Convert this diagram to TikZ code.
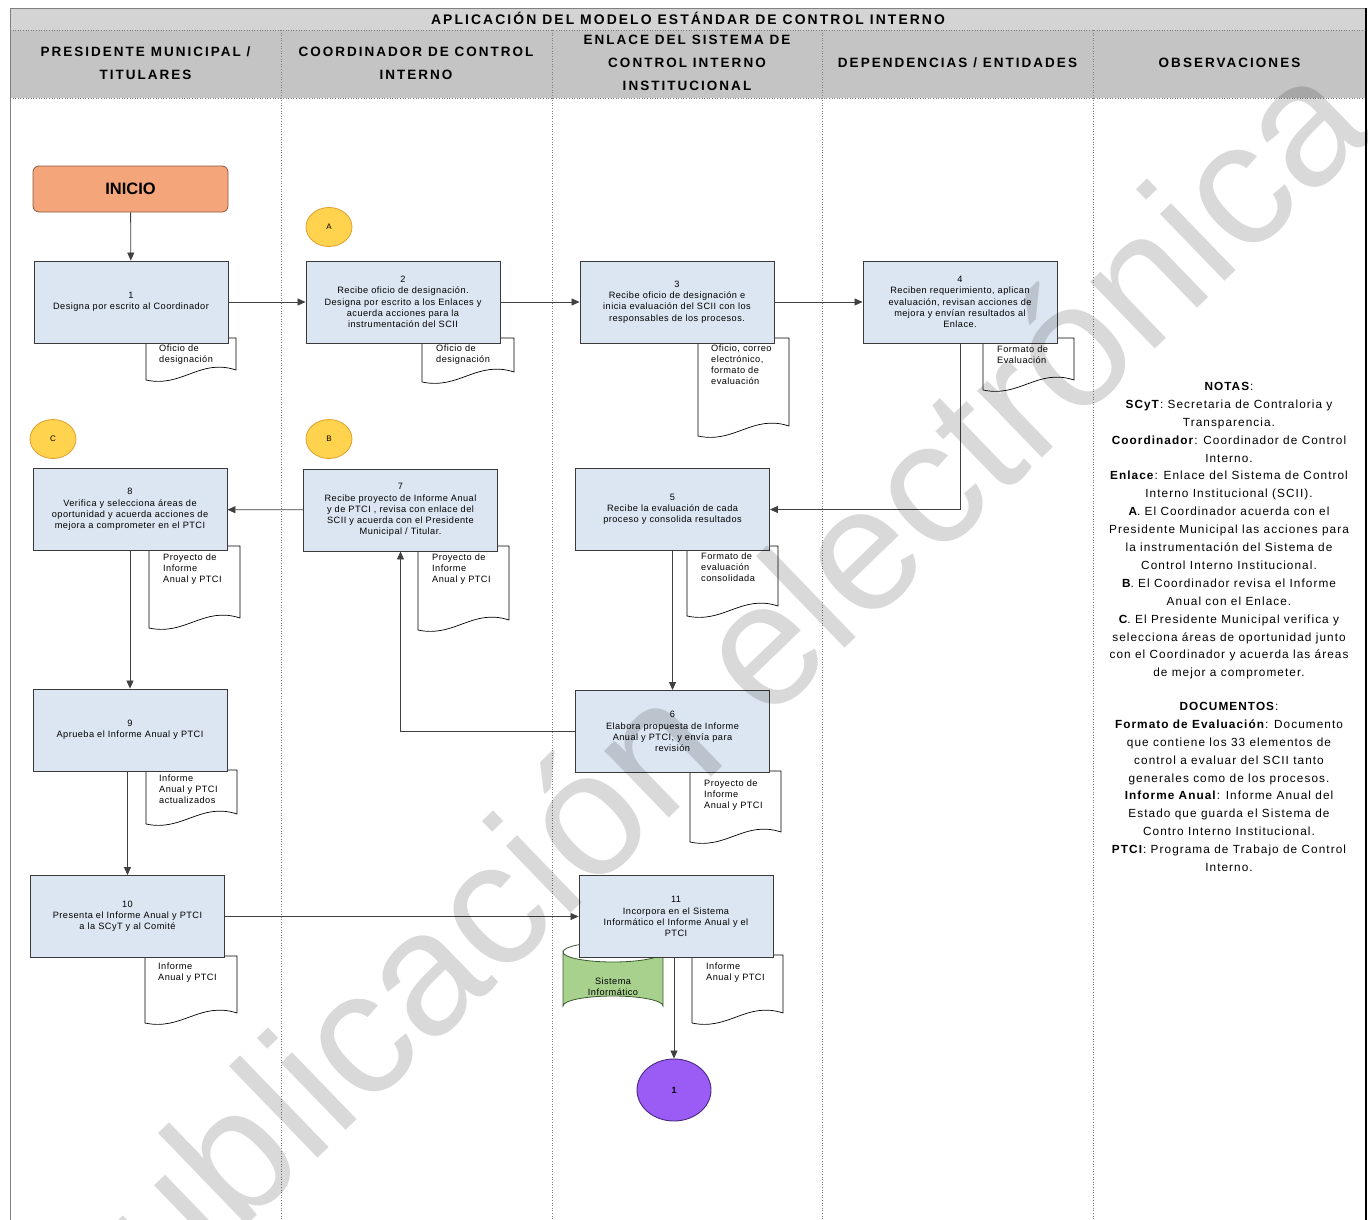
\documentclass[tikz,border=0pt]{standalone}
\usepackage{fontspec}
\setmainfont{Liberation Sans}
\newfontfamily\hdrfont[LetterSpace=15]{Liberation Sans}
\newfontfamily\notefont[LetterSpace=9]{Liberation Sans}
\newfontfamily\boxfont[LetterSpace=5]{Liberation Sans}
\usetikzlibrary{arrows.meta,shapes.geometric}

\definecolor{hdrgray}{HTML}{C4C4C4}
\definecolor{titlegray}{HTML}{D4D4D4}
\definecolor{boxblue}{HTML}{DCE6F2}
\definecolor{boxedge}{HTML}{3A3A3A}
\definecolor{startorange}{HTML}{F4A57A}
\definecolor{startedge}{HTML}{8C5A40}
\definecolor{connyellow}{HTML}{FFD34D}
\definecolor{connedge}{HTML}{E0A030}
\definecolor{endpurple}{HTML}{9B5CF6}
\definecolor{endedge}{HTML}{4A2A80}
\definecolor{dbgreen}{HTML}{A9D18E}
\definecolor{dbedge}{HTML}{3C5A30}
\definecolor{laneline}{HTML}{808080}

% document symbol: frame with a wavy lower edge
\newcommand{\docsym}[4]{%
  \pgfmathsetmacro{\dw}{#3-#1}%
  \draw[docline] (#1,#2) -- (#3,#2) -- (#3,#4-10)
    .. controls ({#3-0.4*\dw},{#4-22}) and ({#1+0.4*\dw},{#4+8}) .. (#1,#4) -- cycle;}

\begin{document}
\begin{tikzpicture}[x=1pt,y=-1pt,
  stepbox/.style={draw=boxedge, line width=0.9pt, fill=boxblue,
    minimum width=194pt, minimum height=82pt, align=center,
    text width=190pt, inner sep=2pt, font=\boxfont\fontsize{9.2}{11.2}\selectfont},
  docline/.style={draw=black, line width=0.7pt, fill=white},
  doctext/.style={anchor=north west, align=left, text width=78pt, inner sep=0pt,
    font=\boxfont\fontsize{9.2}{10.8}\selectfont},
  conn/.style={ellipse, draw=connedge, line width=0.8pt, fill=connyellow,
    minimum width=46pt, minimum height=39pt, inner sep=0pt, font=\fontsize{8}{9}\selectfont},
  flow/.style={draw=black!75, line width=0.8pt, -{Triangle[length=8pt,width=7pt]}},
  hdr/.style={align=center, font=\hdrfont\bfseries\fontsize{13.5}{23}\selectfont},
  lane/.style={draw=laneline, line width=0.6pt, dotted}
]
\useasboundingbox (0,0) rectangle (1368,1220);
\fill[white] (0,0) rectangle (1368,1220);

% ---- title and lane headers ----
\fill[titlegray] (10,8) rectangle (1366,30);
\fill[hdrgray] (10,30) rectangle (1366,98);
\draw[lane] (10,30) -- (1366,30);
\draw[lane] (10,98) -- (1366,98);
\node[font=\hdrfont\bfseries\fontsize{13.9}{14}\selectfont] (title) at (688,18)
  {APLICACIÓN DEL MODELO ESTÁNDAR DE CONTROL INTERNO};
\node[hdr] (h1) at (145.5,63) {PRESIDENTE MUNICIPAL /\\TITULARES};
\node[hdr] (h2) at (416,63) {COORDINADOR DE CONTROL\\INTERNO};
\node[hdr] (h3) at (687,63) {ENLACE DEL SISTEMA DE\\CONTROL INTERNO\\INSTITUCIONAL};
\node[hdr] (h4) at (957.5,63) {DEPENDENCIAS / ENTIDADES};
\node[hdr] (h5) at (1229.5,63) {OBSERVACIONES};
\foreach \lx in {281,552,822,1093} \draw[lane] (\lx,30) -- (\lx,1220);
\draw[draw=laneline, line width=0.6pt] (10,8) -- (10,1220);
\draw[draw=laneline, line width=0.6pt] (10,8) -- (1366,8);
\draw[black, line width=1.6pt] (1366,8) -- (1366,1220);

% ---- documents (drawn beneath the process boxes) ----
\docsym{146}{338}{236}{380}
\node[doctext] (d1) at (159,345) {Oficio de\\designación};
\docsym{422}{338}{514}{382}
\node[doctext] (d2) at (436,345) {Oficio de\\designación};
\docsym{698}{338}{789}{436}
\node[doctext] (d3) at (711,345) {Oficio, correo\\electrónico,\\formato de\\evaluación};
\docsym{983}{338}{1074}{390}
\node[doctext] (d4) at (997,346) {Formato de\\Evaluación};
\docsym{687}{546}{778}{616}
\node[doctext] (d5) at (701,553) {Formato de\\evaluación\\consolidada};
\docsym{690}{771}{781}{842}
\node[doctext] (d6) at (704,780) {Proyecto de\\Informe\\Anual y PTCI};
\docsym{418}{546}{509}{630}
\node[doctext] (d7) at (432,554) {Proyecto de\\Informe\\Anual y PTCI};
\docsym{149}{546}{240}{628}
\node[doctext] (d8) at (163,554) {Proyecto de\\Informe\\Anual y PTCI};
\docsym{146}{770}{237}{824}
\node[doctext] (d9) at (159,775) {Informe\\Anual y PTCI\\actualizados};
\docsym{145}{956}{237}{1023}
\node[doctext] (d10) at (158,963) {Informe\\Anual y PTCI};
\docsym{692}{955}{783}{1023}
\node[doctext] (d11) at (706,963) {Informe\\Anual y PTCI};

% ---- database cylinder ----
\path[fill=dbgreen, draw=dbedge, line width=0.8pt]
  (563,952) -- (563,1006) arc[start angle=180, end angle=360, x radius=50, y radius=10]
  -- (663,952) arc[start angle=0, end angle=180, x radius=50, y radius=10] -- cycle;
\draw[dbedge, line width=0.8pt] (563,952) arc[start angle=180, end angle=360, x radius=50, y radius=10];
\node[align=center, font=\boxfont\fontsize{9.2}{10.8}\selectfont] (db) at (613,987) {Sistema\\Informático};

% ---- start, connectors, process boxes ----
\node[draw=startedge, line width=0.8pt, fill=startorange, rounded corners=6pt,
  minimum width=195pt, minimum height=46pt, font=\bfseries\fontsize{16.5}{18}\selectfont]
  (inicio) at (130.5,189) {INICIO};
\node[conn] (cA) at (329,227) {A};
\node[conn] (cB) at (329,439) {B};
\node[conn] (cC) at (53,439) {C};

\node[stepbox] (b1) at (131,302) {1\\Designa por escrito al Coordinador};
\node[stepbox] (b2) at (403,302) {2\\Recibe oficio de designación.\\Designa por escrito a los Enlaces y\\acuerda acciones para la\\instrumentación del SCII};
\node[stepbox] (b3) at (677,302) {3\\Recibe oficio de designación e\\inicia evaluación del SCII con los\\responsables de los procesos.};
\node[stepbox] (b4) at (960,302) {4\\Reciben requerimiento, aplican\\evaluación, revisan acciones de\\mejora y envían resultados al\\Enlace.};
\node[stepbox] (b5) at (672.5,509.5) {5\\Recibe la evaluación de cada\\proceso y consolida resultados};
\node[stepbox] (b6) at (672.5,731.5) {6\\Elabora propuesta de Informe\\Anual y PTCI, y envía para\\revisión};
\node[stepbox] (b7) at (400.5,510) {7\\Recibe proyecto de Informe Anual\\y de PTCI , revisa con enlace del\\SCII y acuerda con el Presidente\\Municipal / Titular.};
\node[stepbox] (b8) at (130,509.5) {8\\Verifica y selecciona áreas de\\oportunidad y acuerda acciones de\\mejora a comprometer en el PTCI};
\node[stepbox] (b9) at (130,730) {9\\Aprueba el Informe Anual y PTCI};
\node[stepbox] (b10) at (127.5,916.5) {10\\Presenta el Informe Anual y PTCI\\a la SCyT y al Comité};
\node[stepbox] (b11) at (676,916.5) {11\\Incorpora en el Sistema\\Informático el Informe Anual y el\\PTCI};

\node[ellipse, draw=endedge, line width=0.9pt, fill=endpurple, minimum width=74pt,
  minimum height=62pt, font=\bfseries\fontsize{9}{10}\selectfont] (fin) at (674,1090) {1};

% ---- flow lines ----
\draw[flow] (inicio) -- (b1);
\draw[flow] (b1) -- (b2);
\draw[flow] (b2) -- (b3);
\draw[flow] (b3) -- (b4);
\draw[flow] (b4.south) |- (b5.east);
\draw[flow] (b5) -- (b6);
\draw[flow] (b6.west) -| (b7.south);
\draw[flow] (b7) -- (b8);
\draw[flow] (b8) -- (b9);
\draw[flow] (b10.north |- b9.south) -- (b10.north);
\draw[flow] (b10) -- (b11);
\draw[flow] (fin.north |- b11.south) -- (fin.north);

% ---- notes column ----
\node[anchor=north, align=center, inner sep=0pt, font=\notefont\fontsize{11.8}{17.9}\selectfont] (notas) at (1229,382)
{\textbf{NOTAS}:\\
\textbf{SCyT}: Secretaria de Contraloria y\\
Transparencia.\\
\textbf{Coordinador}: Coordinador de Control\\
Interno.\\
\textbf{Enlace}: Enlace del Sistema de Control\\
Interno Institucional (SCII).\\
\textbf{A}. El Coordinador acuerda con el\\
Presidente Municipal las acciones para\\
la instrumentación del Sistema de\\
Control Interno Institucional.\\
\textbf{B}. El Coordinador revisa el Informe\\
Anual con el Enlace.\\
\textbf{C}. El Presidente Municipal verifica y\\
selecciona áreas de oportunidad junto\\
con el Coordinador y acuerda las áreas\\
de mejor a comprometer.};
\node[anchor=north, align=center, inner sep=0pt, font=\notefont\fontsize{11.8}{17.9}\selectfont] (docs) at (1229,702)
{\textbf{DOCUMENTOS}:\\
\textbf{Formato de Evaluación}: Documento\\
que contiene los 33 elementos de\\
control a evaluar del SCII tanto\\
generales como de los procesos.\\
\textbf{Informe Anual}: Informe Anual del\\
Estado que guarda el Sistema de\\
Contro Interno Institucional.\\
\textbf{PTCI}: Programa de Trabajo de Control\\
Interno.};

% ---- watermark ----
\node[rotate=44, text=black, text opacity=0.15, font=\fontsize{176}{176}\selectfont] (wm) at (706,718)
  {publicación electrónica};
\end{tikzpicture}
\end{document}
